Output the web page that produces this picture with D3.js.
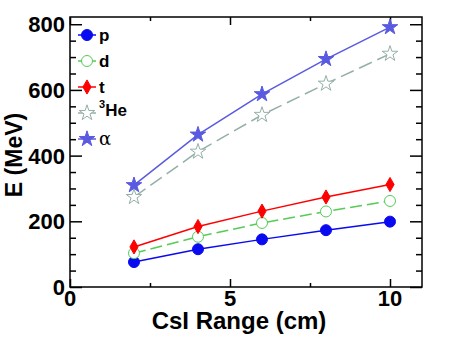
<!DOCTYPE html>
<html>
<head>
<meta charset="utf-8">
<script src="https://cdn.jsdelivr.net/npm/d3@7"></script>
<style>
  body { margin: 0; background: #fff; }
  text { font-family: "Liberation Sans", Arial, sans-serif; }
</style>
</head>
<body>
<div id="chart"></div>
<script>
// CsI range (cm)
var ranges = [2, 4, 6, 8, 10];
var pE   = [76, 115, 145, 173, 199];
var dE   = [103, 153, 195, 230, 262];
var tE   = [122, 184, 231, 274, 312];
var he3E = [274, 412, 524, 619, 710];
var aE   = [310, 464, 587, 694, 791];
var xTicks = [0, 5, 10];
var yTicks = [0, 200, 400, 600, 800];

var series = [
  {name: "p",   vals: pE,   color: "#0a0af0", sym: "circle",  fill: true,  dash: null},
  {name: "d",   vals: dE,   color: "#55cc55", sym: "circle",  fill: false, dash: "12,5"},
  {name: "t",   vals: tE,   color: "#ff0000", sym: "diamond", fill: true,  dash: null},
  {name: "3He", vals: he3E, color: "#94b0a6", sym: "star",    fill: false, dash: "14,6"},
  {name: "α",   vals: aE,   color: "#5a5ae0", sym: "star",    fill: true,  dash: null}
];

var W = 469, H = 338;
var margin = {top: 17, right: 47, bottom: 51, left: 70};
var width = W - margin.left - margin.right,
    height = H - margin.top - margin.bottom;

var x = d3.scaleLinear().domain([0, 11]).range([0, width]);
var y = d3.scaleLinear().domain([0, 822]).range([height, 0]);

var svg = d3.select("#chart").append("svg")
    .attr("width", W).attr("height", H)
  .append("g")
    .attr("transform", "translate(" + margin.left + "," + margin.top + ")");

// frame
svg.append("rect")
    .attr("width", width).attr("height", height)
    .style("fill", "none").style("stroke", "#000").style("stroke-width", 1.5);

// ticks (inside)
var xMinor = d3.range(0, 11.01, 2.5).filter(function(v) { return v % 5 !== 0; });
var yMinor = d3.range(0, 822, 50).filter(function(v) { return v % 200 !== 0; });

function tickAxis(axis, vals, size) {
  return axis.tickValues(vals).tickSize(size).tickFormat("");
}
var axes = svg.append("g").attr("class", "ticks");
axes.append("g").attr("transform", "translate(0," + height + ")")
    .call(tickAxis(d3.axisTop(x), xTicks, 8));
axes.append("g").attr("transform", "translate(0," + height + ")")
    .call(tickAxis(d3.axisTop(x), xMinor, 4));
axes.append("g").call(tickAxis(d3.axisBottom(x), xTicks, 8));
axes.append("g").call(tickAxis(d3.axisBottom(x), xMinor, 4));
axes.append("g").call(tickAxis(d3.axisRight(y), yTicks, 12));
axes.append("g").call(tickAxis(d3.axisRight(y), yMinor, 6));
axes.append("g").attr("transform", "translate(" + width + ",0)")
    .call(tickAxis(d3.axisLeft(y), yTicks, 12));
axes.append("g").attr("transform", "translate(" + width + ",0)")
    .call(tickAxis(d3.axisLeft(y), yMinor, 6));
axes.selectAll(".domain").remove();
axes.selectAll("line").style("stroke", "#000").style("stroke-width", 1.5);

// tick labels
svg.append("g").selectAll("text")
    .data(xTicks).enter().append("text")
    .attr("x", function(d) { return x(d); })
    .attr("y", height + 19)
    .attr("text-anchor", "middle")
    .style("font-size", "22px").style("font-weight", "bold")
    .text(function(d) { return d; });

svg.append("g").selectAll("text")
    .data(yTicks).enter().append("text")
    .attr("x", -5)
    .attr("y", function(d) { return y(d); })
    .attr("dy", "0.36em")
    .attr("text-anchor", "end")
    .style("font-size", "22px").style("font-weight", "bold")
    .text(function(d) { return d; });

// axis titles
svg.append("text")
    .attr("x", width / 2 - 7)
    .attr("y", height + 42)
    .attr("text-anchor", "middle")
    .style("font-size", "24px").style("font-weight", "bold")
    .text("CsI Range (cm)");

svg.append("text")
    .attr("transform", "translate(" + (-48) + "," + (height / 2 + 3) + ") rotate(-90)")
    .attr("text-anchor", "middle")
    .style("font-size", "23px").style("font-weight", "bold")
    .text("E (MeV)");

var symbols = {circle: d3.symbolCircle, diamond: d3.symbolDiamond, star: d3.symbolStar};
function marker(s) {
  var size = s.sym === "star" ? 75 : (s.sym === "diamond" ? 58 : 95);
  return d3.symbol().type(symbols[s.sym]).size(size)();
}
function applyMarker(sel, s) {
  sel.attr("d", marker(s))
    .style("fill", s.fill ? s.color : "#fff")
    .style("stroke", s.color)
    .style("stroke-width", 1);
}

var line = d3.line()
    .x(function(d, i) { return x(ranges[i]); })
    .y(function(d) { return y(d); });

series.forEach(function(s) {
  svg.append("path")
      .datum(s.vals)
      .attr("d", line)
      .style("fill", "none")
      .style("stroke", s.color)
      .style("stroke-width", 1.5)
      .style("stroke-dasharray", s.dash);

  svg.append("g").selectAll("path")
      .data(s.vals).enter().append("path")
      .attr("transform", function(d, i) { return "translate(" + x(ranges[i]) + "," + y(d) + ")"; })
      .each(function() { applyMarker(d3.select(this), s); });
});

// legend
var legend = svg.append("g").attr("transform", "translate(17,18)");
series.forEach(function(s, i) {
  var g = legend.append("g").attr("transform", "translate(0," + (i * 26) + ")");
  g.append("line").attr("x1", -9).attr("x2", 9)
      .style("stroke", s.color).style("stroke-width", 1.5);
  applyMarker(g.append("path"), s);
  var t = g.append("text").attr("x", 12).attr("dy", "0.36em")
      .style("font-size", "17px").style("font-weight", "bold");
  if (s.name === "3He") {
    t.append("tspan").attr("dy", "-0.45em").style("font-size", "11px").text("3");
    t.append("tspan").attr("dy", "0.45em").text("He");
  } else if (s.name === "α") {
    t.style("font-weight", "normal").style("font-family", "'DejaVu Serif', serif").style("font-size", "18px").text("α");
  } else {
    t.text(s.name);
  }
});
</script>
</body>
</html>
